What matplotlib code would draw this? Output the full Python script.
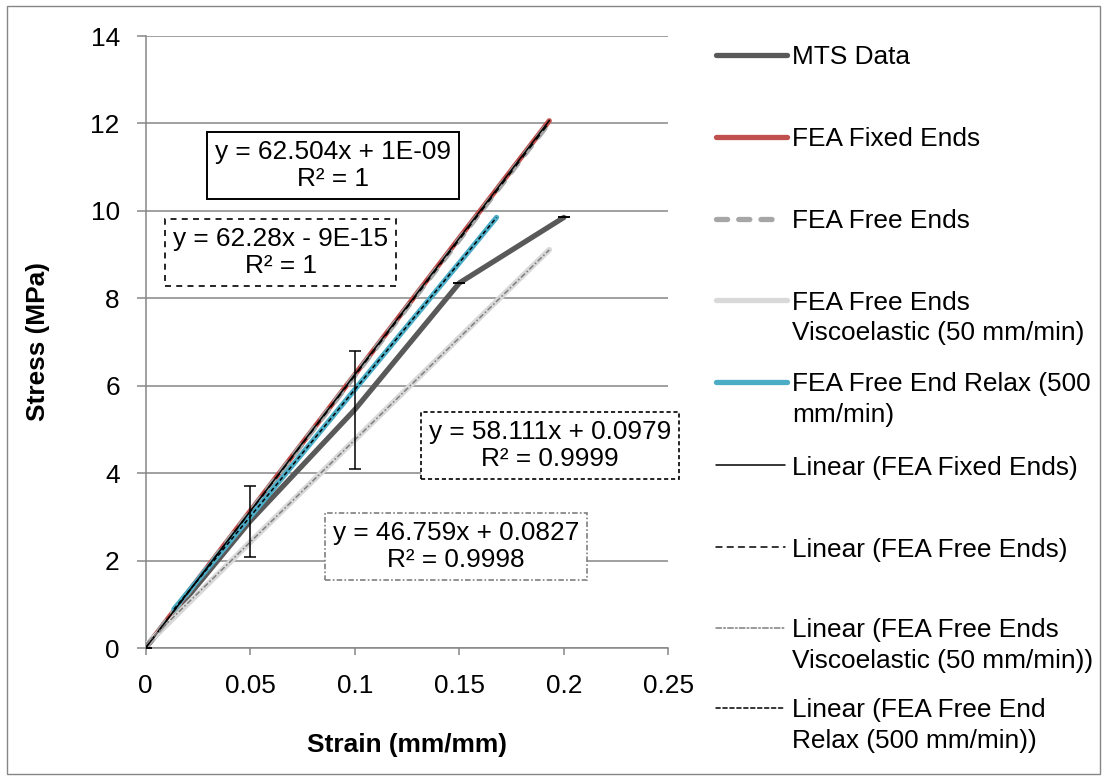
import matplotlib
matplotlib.use("Agg")
import matplotlib.pyplot as plt
import numpy as np
from matplotlib.lines import Line2D
from matplotlib.patches import Rectangle

plt.rcParams['font.family'] = ['Liberation Sans', 'DejaVu Sans']
plt.rcParams['lines.scale_dashes'] = False
FS = 18.9

# ---------------- data ----------------
mts_x = [0.0, 0.05, 0.1, 0.15, 0.2]
mts_y = [0.0, 2.90, 5.45, 8.35, 9.85]
mts_err = [0.0, 0.81, 1.35, 0.0, 0.0]

fixed_x = [0.0, 0.05, 0.1, 0.15, 0.193]
fixed_y = [0.0, 3.13, 6.25, 9.38, 12.06]

free_x = [0.0, 0.05, 0.1, 0.15, 0.193]
free_y = [0.0, 3.11, 6.23, 9.34, 12.02]

visco_x = [0.0, 0.05, 0.1, 0.15, 0.193]
visco_y = [0.05, 2.42, 4.76, 7.10, 9.11]

relax_x = [0.0136, 0.05, 0.1, 0.15, 0.1678]
relax_y = [0.89, 3.00, 5.91, 8.81, 9.85]

# trendline coefficients (slope, intercept) and their labels
trend_fixed = (62.504, 1e-09)
trend_free = (62.28, -9e-15)
trend_visco = (46.759, 0.0827)
trend_relax = (58.111, 0.0979)

eq_fixed = "y = 62.504x + 1E-09\nR² = 1"
eq_free = "y = 62.28x - 9E-15\nR² = 1"
eq_relax = "y = 58.111x + 0.0979\nR² = 0.9999"
eq_visco = "y = 46.759x + 0.0827\nR² = 0.9998"

x_ticks = [0, 0.05, 0.1, 0.15, 0.2, 0.25]
x_tick_labels = ["0", "0.05", "0.1", "0.15", "0.2", "0.25"]
y_ticks = [0, 2, 4, 6, 8, 10, 12, 14]

legend_labels = ["MTS Data", "FEA Fixed Ends", "FEA Free Ends",
                 "FEA Free Ends\nViscoelastic (50 mm/min)",
                 "FEA Free End Relax (500\nmm/min)",
                 "Linear (FEA Fixed Ends)", "Linear (FEA Free Ends)",
                 "Linear (FEA Free Ends\nViscoelastic (50 mm/min))",
                 "Linear (FEA Free End\nRelax (500 mm/min))"]

# ---------------- styles ----------------
GRID = '#868686'
C_MTS = '#595959'
C_FIX = '#C0504D'
C_FREE = '#A6A6A6'
C_VIS = '#D9D9D9'
C_REL = '#4BACC6'
C_LVIS = '#7F7F7F'
LW = 3.8
TLW = 1.1
DASH_FREE = (0, (8.0, 8.0))
DASH_LFREE = (0, (4.3, 3.8))
DASH_LREL = (0, (3.0, 2.0))
DASH_LVIS = (0, (4.0, 1.6, 1.2, 1.6))

W, H = 1107, 780
fig = plt.figure(figsize=(W / 100, H / 100), dpi=100)
ax = fig.add_axes([145.5 / W, 1 - 648 / H, 523 / W, 612 / H])

ax.set_xlim(0, 0.25)
ax.set_ylim(0, 14)
ax.set_xticks(x_ticks)
ax.set_xticklabels(x_tick_labels)
ax.set_yticks(y_ticks)
ax.grid(axis='y', color=GRID, lw=1.1, zorder=0)
ax.set_axisbelow(True)
for s in ['top', 'right']:
    ax.spines[s].set_visible(False)
for s in ['left', 'bottom']:
    ax.spines[s].set_color(GRID)
    ax.spines[s].set_linewidth(1.1)
ax.tick_params(axis='y', direction='out', length=6.5, width=1.1, color=GRID,
               pad=12, labelsize=FS)
ax.tick_params(axis='x', direction='out', length=5, width=1.1, color=GRID,
               pad=13.5, labelsize=FS)

ax.set_xlabel("Strain (mm/mm)", fontsize=FS, fontweight='bold')
ax.set_ylabel("Stress (MPa)", fontsize=FS, fontweight='bold')
ax.xaxis.set_label_coords(0.5, (648 - 745) / 612)
ax.yaxis.set_label_coords((38 - 145.5) / 523, 0.5)
ax.xaxis.label.set_va('center')
ax.yaxis.label.set_va('center')

# series
ax.plot(mts_x, mts_y, color=C_MTS, lw=LW, zorder=3, solid_capstyle='round')
ax.errorbar(mts_x, mts_y, yerr=mts_err, fmt='none', ecolor='black',
            elinewidth=1.1, capsize=4.3, capthick=1.1, zorder=9)
ax.plot(fixed_x, fixed_y, color=C_FIX, lw=LW, zorder=4, solid_capstyle='round')
ax.plot(free_x, free_y, color=C_FREE, lw=LW, ls=DASH_FREE, zorder=5,
        dash_capstyle='round')
ax.plot(visco_x, visco_y, color=C_VIS, lw=LW + 0.3, zorder=4, solid_capstyle='round')
ax.plot(relax_x, relax_y, color=C_REL, lw=LW, zorder=5, solid_capstyle='round')

# trendlines
def trend(xs, coef, **kw):
    xr = np.array([min(xs), max(xs)])
    ax.plot(xr, coef[0] * xr + coef[1], **kw)

trend(fixed_x, trend_fixed, color='black', lw=TLW, zorder=7)
trend(free_x, trend_free, color='black', lw=TLW, ls=DASH_LFREE, zorder=7)
trend(visco_x, trend_visco, color=C_LVIS, lw=TLW, ls=DASH_LVIS, zorder=7)
trend(relax_x, trend_relax, color='black', lw=TLW, ls=DASH_LREL, zorder=7)

# equation boxes
def px2data(px, py):
    return (px - 145.5) / 523 * 0.25, (648 - py) / 612 * 14

def eqbox(txt, px, py, ec, ls, lw):
    x, y = px2data(px, py)
    ax.text(x, y, txt, fontsize=FS, ha='center', va='center', ma='center',
            linespacing=1.17, zorder=10, clip_on=False,
            bbox=dict(boxstyle='square,pad=0.3', fc='white', ec=ec, lw=lw, ls=ls))

eqbox(eq_fixed, 332.7, 165.5, 'black', '-', 1.4)
eqbox(eq_free, 280.8, 252.3, 'black', DASH_LFREE, 1.2)
eqbox(eq_relax, 550.0, 445.7, 'black', DASH_LREL, 1.2)
eqbox(eq_visco, 456.0, 546.6, C_LVIS, DASH_LVIS, 1.2)

# legend (manual, figure pixel coordinates)
handles = [
    dict(color=C_MTS, lw=LW, ls='-', x1=787),
    dict(color=C_FIX, lw=LW, ls='-', x1=787),
    dict(color=C_FREE, lw=LW, ls=DASH_FREE, x1=780),
    dict(color=C_VIS, lw=LW, ls='-', x1=787),
    dict(color=C_REL, lw=LW, ls='-', x1=787),
    dict(color='black', lw=TLW, ls='-', x1=785),
    dict(color='black', lw=TLW, ls=DASH_LFREE, x1=785),
    dict(color=C_LVIS, lw=TLW, ls=DASH_LVIS, x1=785),
    dict(color='black', lw=TLW, ls=DASH_LREL, x1=785),
]
entry_y = [55, 137, 219, 300, 382, 465, 547, 628, 708]
for h, lab, yy in zip(handles, legend_labels, entry_y):
    x0 = 716
    ln = Line2D([x0 / W, h['x1'] / W], [1 - yy / H, 1 - yy / H],
                transform=fig.transFigure, color=h['color'], lw=h['lw'],
                ls=h['ls'], solid_capstyle='round', dash_capstyle='round')
    fig.add_artist(ln)
    for i, line in enumerate(lab.split('\n')):
        fig.text(792 / W, 1 - (yy + i * 30.5) / H, line, fontsize=FS,
                 ha='left', va='center_baseline')

# outer chart border
fig.add_artist(Rectangle((7 / W, 1 - 774 / H), 1093 / W, 768 / H,
                         transform=fig.transFigure, fill=False,
                         ec=GRID, lw=1.0))

fig.savefig("out.png", dpi=100)
